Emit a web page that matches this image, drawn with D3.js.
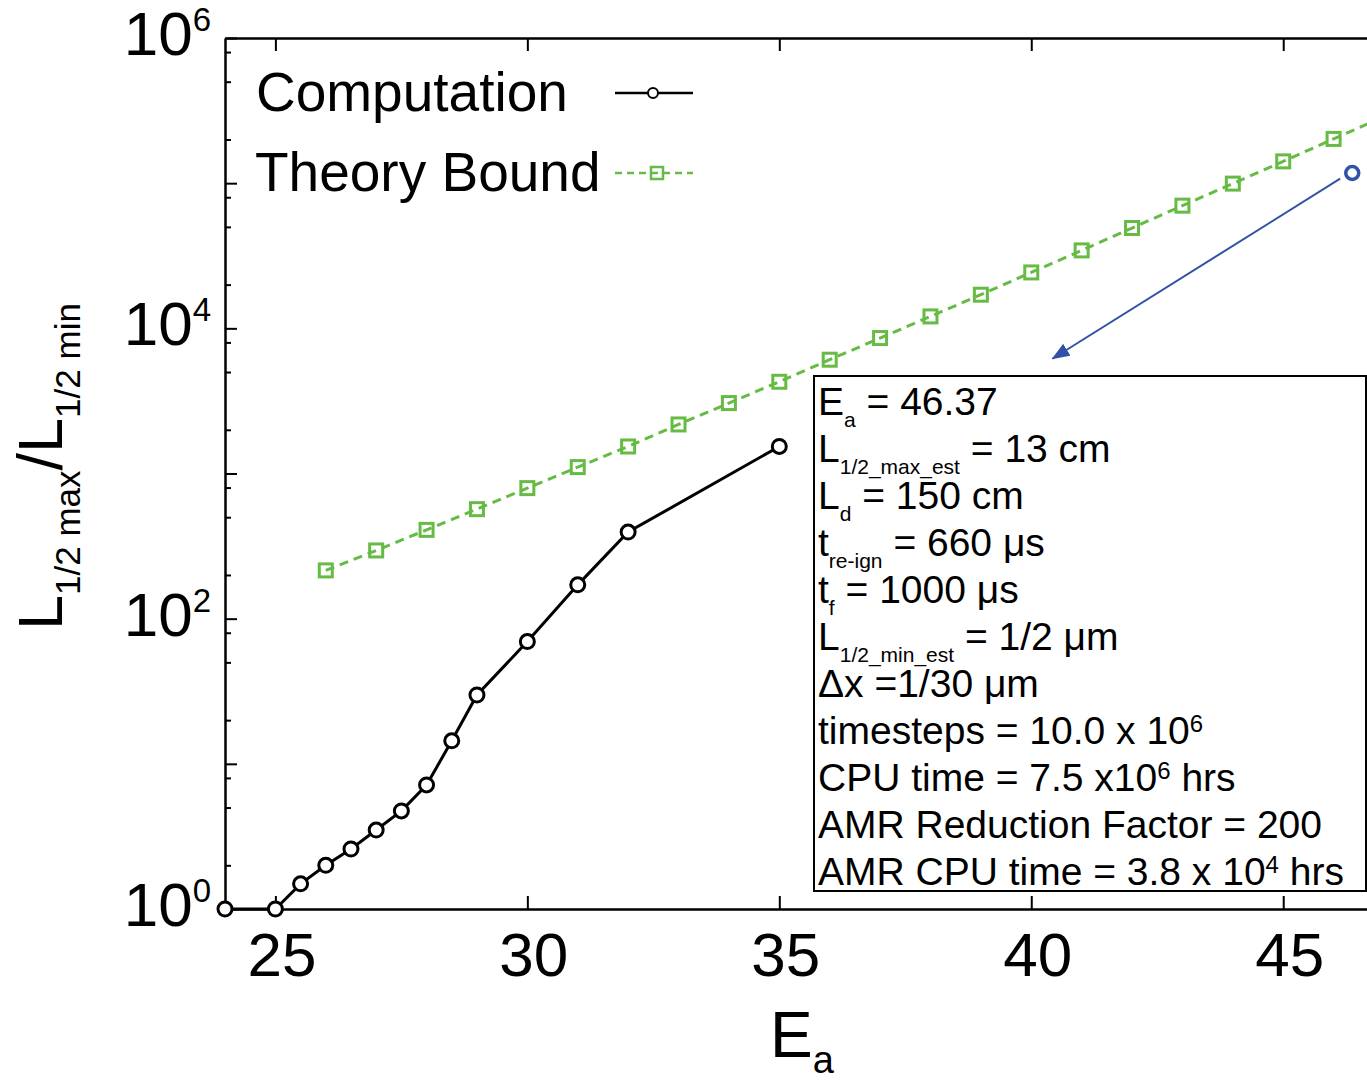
<!DOCTYPE html>
<html lang="en">
<head>
<meta charset="utf-8">
<title>L1/2 max / L1/2 min vs Ea</title>
<script src="https://cdnjs.cloudflare.com/ajax/libs/d3/7.8.5/d3.min.js"></script>
<style>
  body { margin: 0; background: #fff; }
  svg { display: block; font-family: "Liberation Sans", Arial, Helvetica, sans-serif; }
  text { white-space: pre; }
</style>
</head>
<body>
<svg id="canvas" width="1367" height="1080"></svg>
<script>
// Data
const compE = [24, 25, 25.5, 26, 26.5, 27, 27.5, 28, 28.5, 29, 30, 31, 32, 35];
const compRatio = [1, 1, 1.49, 2.0, 2.59, 3.50, 4.74, 7.15, 14.4, 29.8, 69.5, 171, 395, 1535];

const theoryE = [26, 27, 28, 29, 30, 31, 32, 33, 34, 35, 36, 37, 38, 39, 40, 41, 42, 43, 44, 45, 46, 47];
const theoryRatio = [215, 295, 409, 568, 793, 1107, 1535, 2177, 3055, 4285, 6080, 8570,
                     12080, 17050, 24270, 34420, 49100, 70000, 99300, 141300, 201700, 287000];

// the single large-domain estimate (blue) and the arrow pointing at the box
const estPoint = [46.37, 117500];
const arrowFrom = [46.13, 107400];
const arrowTo = [40.42, 6170];

// ticks
const xTicks = [25, 30, 35, 40, 45];
const yMajor = [1, 10, 100, 1e3, 1e4, 1e5, 1e6];
const yMinor = [2, 5, 8, 20, 50, 80, 200, 500, 800, 2e3, 5e3, 8e3, 2e4, 5e4, 8e4, 2e5, 5e5, 8e5];
const yLabelExp = [0, 2, 4, 6];

const legendNames = ["Computation", "Theory Bound"];

// annotation box text: [text, kind]  kind: "" normal, "sub", "sup"
const boxLines = [
  [["E", ""], ["a", "sub"], [" = 46.37", ""]],
  [["L", ""], ["1/2_max_est", "sub"], [" = 13 cm", ""]],
  [["L", ""], ["d", "sub"], [" = 150 cm", ""]],
  [["t", ""], ["re-ign", "sub"], [" = 660 \u03bcs", ""]],
  [["t", ""], ["f", "sub"], [" = 1000 \u03bcs", ""]],
  [["L", ""], ["1/2_min_est", "sub"], [" = 1/2 \u03bcm", ""]],
  [["\u0394x =1/30 \u03bcm", ""]],
  [["timesteps = 10.0 x 10", ""], ["6", "sup"]],
  [["CPU time = 7.5 x10", ""], ["6", "sup"], [" hrs", ""]],
  [["AMR Reduction Factor = 200", ""]],
  [["AMR CPU time = 3.8 x 10", ""], ["4", "sup"], [" hrs", ""]]
];

const green = "#66bb44";
const blue = "#3152a6";

const svg = d3.select("#canvas");

const x = d3.scaleLinear().domain([24, 47]).range([225, 1384]);
const y = d3.scaleLog().domain([1, 1e6]).range([909, 38]);

function cleanAxis(g) {
  g.attr("font-family", null).attr("font-size", null);
  g.select(".domain").attr("stroke-width", 2.5);
  g.selectAll(".tick line").attr("stroke-width", 2);
}

// bottom axis
svg.append("g")
  .attr("transform", "translate(0," + y(1) + ")")
  .call(d3.axisBottom(x).tickValues(xTicks).tickSizeInner(-13).tickSizeOuter(0)
    .tickPadding(23).tickFormat(d3.format("d")))
  .call(cleanAxis)
  .call(g => g.selectAll("text").attr("font-size", 62).attr("x", 6));

// top axis
svg.append("g")
  .attr("transform", "translate(0," + y(1e6) + ")")
  .call(d3.axisTop(x).tickValues(xTicks).tickSizeInner(-13).tickSizeOuter(0).tickFormat(""))
  .call(cleanAxis);

// left axis, major + minor
svg.append("g")
  .attr("transform", "translate(" + x(24) + ",0)")
  .call(d3.axisLeft(y).tickValues(yMajor).tickSizeInner(-12).tickSizeOuter(0).tickFormat(""))
  .call(cleanAxis);

svg.append("g")
  .attr("transform", "translate(" + x(24) + ",0)")
  .call(d3.axisLeft(y).tickValues(yMinor).tickSizeInner(-6).tickSizeOuter(0).tickFormat(""))
  .call(cleanAxis)
  .call(g => g.select(".domain").remove());

// y tick labels 10^k
svg.selectAll(".ylab")
  .data(yLabelExp)
  .join("text")
  .attr("class", "ylab")
  .attr("x", 211)
  .attr("y", d => y(Math.pow(10, d)) + 17)
  .attr("text-anchor", "end")
  .attr("font-size", 62)
  .each(function(d) {
    let t = d3.select(this);
    t.append("tspan").text("10");
    t.append("tspan").attr("font-size", 33).attr("dy", -24).text(d);
  });

// axis titles
let xt = svg.append("text").attr("x", 770).attr("y", 1057).attr("font-size", 64);
xt.append("tspan").text("E");
xt.append("tspan").attr("font-size", 38).attr("dy", 16).text("a");

let yt = svg.append("text").attr("transform", "translate(62,630) rotate(-90)").attr("font-size", 63);
yt.append("tspan").text("L");
yt.append("tspan").attr("font-size", 35).attr("dy", 18).text("1/2 max");
yt.append("tspan").attr("dy", -18).text("/L");
yt.append("tspan").attr("font-size", 35).attr("dy", 18).text("1/2 min");

// series
const line = d3.line().x(d => x(d[0])).y(d => y(d[1]));
const theoryPts = theoryE.map((e, i) => [e, theoryRatio[i]]);
const compPts = compE.map((e, i) => [e, compRatio[i]]);

svg.append("path")
  .attr("d", line(theoryPts))
  .attr("fill", "none")
  .attr("stroke", green)
  .attr("stroke-width", 3)
  .attr("stroke-dasharray", "9,6");

svg.selectAll(".sq")
  .data(theoryPts)
  .join("rect")
  .attr("class", "sq")
  .attr("x", d => x(d[0]) - 6.5)
  .attr("y", d => y(d[1]) - 6.5)
  .attr("width", 13)
  .attr("height", 13)
  .attr("fill", "none")
  .attr("stroke", green)
  .attr("stroke-width", 3);

svg.append("path")
  .attr("d", line(compPts))
  .attr("fill", "none")
  .attr("stroke", "#000")
  .attr("stroke-width", 3);

svg.selectAll(".pt")
  .data(compPts)
  .join("circle")
  .attr("class", "pt")
  .attr("cx", d => x(d[0]))
  .attr("cy", d => y(d[1]))
  .attr("r", 7)
  .attr("fill", "#fff")
  .attr("stroke", "#000")
  .attr("stroke-width", 3);

// blue estimate + arrow
svg.append("defs").append("marker")
  .attr("id", "head")
  .attr("viewBox", "0 0 18 14")
  .attr("refX", 17).attr("refY", 7)
  .attr("markerWidth", 18).attr("markerHeight", 14)
  .attr("markerUnits", "userSpaceOnUse")
  .attr("orient", "auto")
  .append("path")
  .attr("d", "M0,0 L18,7 L0,14 Z")
  .attr("fill", blue);

svg.append("line")
  .attr("x1", x(arrowFrom[0])).attr("y1", y(arrowFrom[1]))
  .attr("x2", x(arrowTo[0])).attr("y2", y(arrowTo[1]))
  .attr("stroke", blue)
  .attr("stroke-width", 2)
  .attr("marker-end", "url(#head)");

svg.append("circle")
  .attr("cx", x(estPoint[0]))
  .attr("cy", y(estPoint[1]))
  .attr("r", 6.5)
  .attr("fill", "#fff")
  .attr("stroke", blue)
  .attr("stroke-width", 3.5);

// legend
let leg = svg.append("g");
leg.append("text").attr("x", 256).attr("y", 111).attr("font-size", 55).text(legendNames[0]);
leg.append("text").attr("x", 255).attr("y", 191).attr("font-size", 55).text(legendNames[1]);
leg.append("line").attr("x1", 615).attr("x2", 693).attr("y1", 93).attr("y2", 93)
  .attr("stroke", "#000").attr("stroke-width", 2.5);
leg.append("circle").attr("cx", 653).attr("cy", 93).attr("r", 5)
  .attr("fill", "#fff").attr("stroke", "#000").attr("stroke-width", 2);
leg.append("line").attr("x1", 615).attr("x2", 693).attr("y1", 173).attr("y2", 173)
  .attr("stroke", green).attr("stroke-width", 2.5).attr("stroke-dasharray", "7,5");
leg.append("rect").attr("x", 651).attr("y", 167).attr("width", 12).attr("height", 12)
  .attr("fill", "none").attr("stroke", green).attr("stroke-width", 2.5);

// annotation box
svg.append("rect")
  .attr("x", 814).attr("y", 376).attr("width", 552).attr("height", 515)
  .attr("fill", "#fff").attr("stroke", "#000").attr("stroke-width", 2);

const shift = { "": 0, "sub": 12, "sup": -12 };
const fsize = { "": 39, "sub": 21, "sup": 24 };

svg.selectAll(".boxline")
  .data(boxLines)
  .join("text")
  .attr("class", "boxline")
  .attr("x", 818)
  .attr("y", (d, i) => 415 + i * 47)
  .attr("font-size", 39)
  .each(function(parts) {
    let t = d3.select(this);
    let cur = 0;
    parts.forEach(p => {
      t.append("tspan")
        .attr("font-size", fsize[p[1]])
        .attr("dy", shift[p[1]] - cur)
        .text(p[0]);
      cur = shift[p[1]];
    });
  });
</script>
</body>
</html>
